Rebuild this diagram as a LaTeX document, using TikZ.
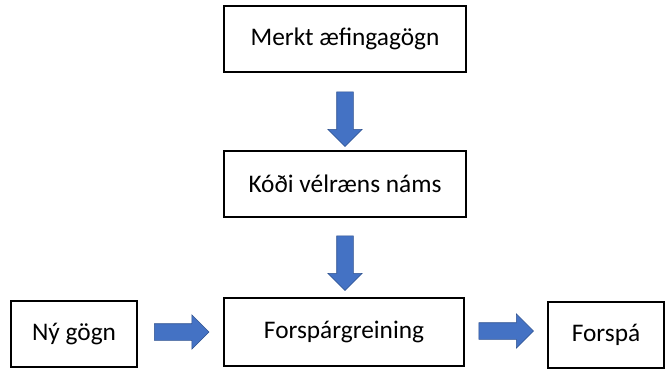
\documentclass[tikz,border=0pt]{standalone}
\usepackage{fontspec}
\setmainfont{Carlito}
\usepackage{tikz}
\usetikzlibrary{shapes.arrows}
\usepackage{xcolor}
\definecolor{officeblue}{HTML}{4472C4}
\definecolor{officeedge}{HTML}{2F528F}

\begin{document}
\begin{tikzpicture}[
  x=0.75pt, y=-0.75pt,
  % Node Styles
  bnode/.style={rectangle, draw, line width=1.4pt, fill=white, text=black, minimum height=49.5pt, minimum width=181.5pt, align=center},
  snode/.style={bnode, minimum width=95pt},
  % Arrow Styles
  blockarrow/.style={single arrow, draw=officeedge, fill=officeblue, line width=0.5pt, inner xsep=0pt, inner ysep=6pt, minimum height=41pt, single arrow head extend=6.6pt, single arrow head indent=0pt},
  downarrow/.style={blockarrow, shape border rotate=270, inner xsep=6pt, inner ysep=0pt}
]
\tikzset{font=\fontsize{19}{22}\selectfont}
\useasboundingbox (0,0) rectangle (666,369);

% Diagram for: vélrænt nám

\node[bnode] (B_train) at (345,39) {Merkt æfingagögn};
\node[bnode] (B_code) at (345,184) {Kóði vélræns náms};
\node[bnode, minimum height=51pt, minimum width=180pt] (B_pred) at (344,332) {Forspárgreining};
\node[snode] (B_new) at (74,334) {Ný gögn};
\node[snode, minimum width=87pt] (B_out) at (606,335) {Forspá};

\node[downarrow] (A_0) at (345,115) {};
\node[downarrow] (A_1) at (345,259) {};
\node[blockarrow] (A_2) at (177.5,332) {};
\node[blockarrow] (A_3) at (502,331) {};

\end{tikzpicture}
\end{document}
